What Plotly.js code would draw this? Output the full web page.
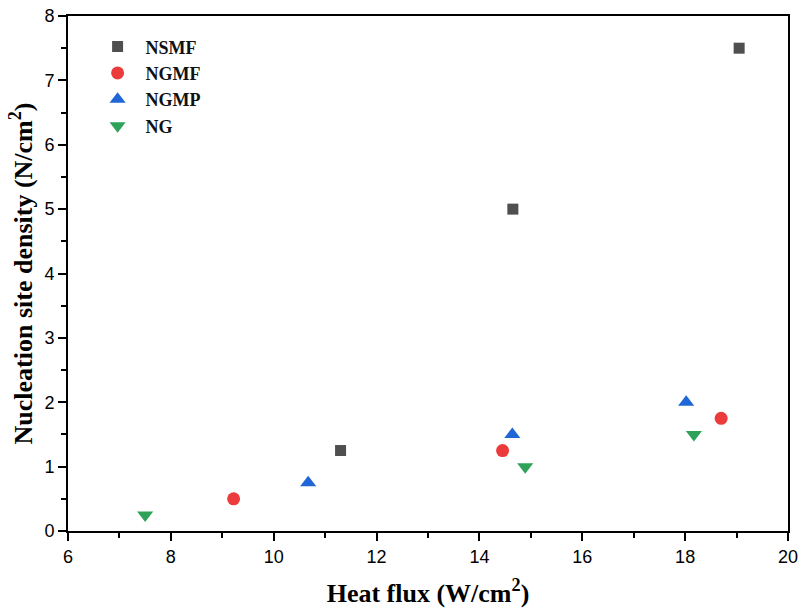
<!DOCTYPE html>
<html>
<head>
<meta charset="utf-8">
<script src="https://cdn.plot.ly/plotly-3.0.1.min.js"></script>
<style>html,body{margin:0;padding:0;background:#fff;}#chart{width:803px;height:614px;}</style>
</head>
<body>
<div id="chart"></div>
<script>
const seriesNames = ["NSMF", "NGMF", "NGMP", "NG"];
const nsmfX = [11.3, 14.65, 19.05];
const nsmfY = [1.25, 5.0, 7.5];
const ngmfX = [9.22, 14.45, 18.7];
const ngmfY = [0.5, 1.25, 1.75];
const ngmpX = [10.67, 14.64, 18.02];
const ngmpY = [0.75, 1.5, 2.0];
const ngX = [7.5, 14.89, 18.17];
const ngY = [0.25, 1.0, 1.5];
const xTicks = [6, 8, 10, 12, 14, 16, 18, 20];
const yTicks = [0, 1, 2, 3, 4, 5, 6, 7, 8];

const colors = ["#4f4f4f", "#ec3b3b", "#1f66d6", "#2fa25a"];
const symbols = ["square", "circle", "triangle-up", "triangle-down"];
const sizes = [11, 13, 14, 14];
const xs = [nsmfX, ngmfX, ngmpX, ngX];
const ys = [nsmfY, ngmfY, ngmpY, ngY];

const data = seriesNames.map((n, i) => ({
  x: xs[i], y: ys[i], name: n, type: "scatter", mode: "markers",
  marker: {symbol: symbols[i], color: colors[i], size: sizes[i]}
}));

const axisFont = {family: "Arial, Liberation Sans, sans-serif", size: 18, color: "#000"};
const titleFont = {family: "Times New Roman, Liberation Serif, serif", size: 26, color: "#000", weight: "bold"};

const layout = {
  width: 803, height: 614,
  margin: {l: 68, r: 15, t: 16, b: 83},
  paper_bgcolor: "#fff", plot_bgcolor: "#fff",
  showlegend: true,
  legend: {
    x: 0.03, y: 0.976, xanchor: "left", yanchor: "top",
    bgcolor: "rgba(0,0,0,0)", itemwidth: 46,
    font: {family: "Times New Roman, Liberation Serif, serif", size: 18, color: "#111", weight: "bold"}
  },
  xaxis: {
    range: [6, 20], tickvals: xTicks, ticktext: xTicks.map(String),
    showgrid: false, zeroline: false, showline: true, linecolor: "#000", linewidth: 2, mirror: true,
    ticks: "outside", ticklen: 8, tickwidth: 2, tickcolor: "#000",
    minor: {dtick: 1, tick0: 6, ticks: "outside", ticklen: 5, tickwidth: 2, tickcolor: "#000", showgrid: false},
    tickfont: axisFont,
    title: {text: "Heat flux (W/cm<sup>2</sup>)", font: titleFont, standoff: 18}
  },
  yaxis: {
    range: [0, 8], tickvals: yTicks, ticktext: yTicks.map(String),
    showgrid: false, zeroline: false, showline: true, linecolor: "#000", linewidth: 2, mirror: true,
    ticks: "outside", ticklen: 8, tickwidth: 2, tickcolor: "#000",
    minor: {dtick: 0.5, tick0: 0, ticks: "outside", ticklen: 5, tickwidth: 2, tickcolor: "#000", showgrid: false},
    tickfont: axisFont,
    title: {text: "Nucleation site density (N/cm<sup>2</sup>)", font: titleFont, standoff: 4}
  }
};

Plotly.newPlot("chart", data, layout, {displayModeBar: false, staticPlot: true});
</script>
</body>
</html>
